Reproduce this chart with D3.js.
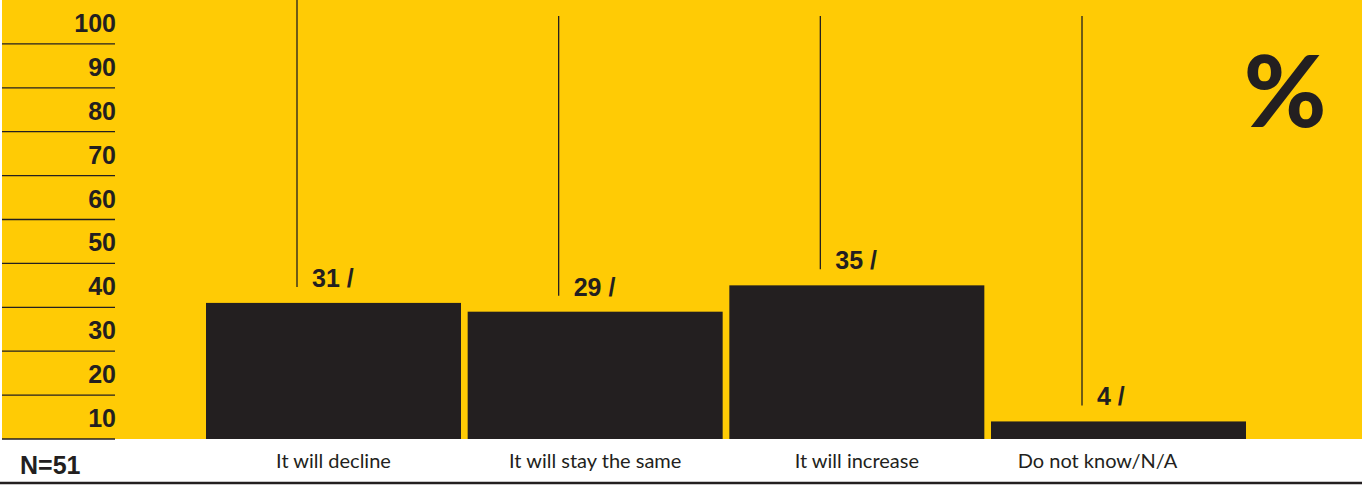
<!DOCTYPE html>
<html>
<head>
<meta charset="utf-8">
<script src="https://cdn.jsdelivr.net/npm/d3@7"></script>
<style>
  html, body { margin: 0; padding: 0; background: #fff; }
  svg { display: block; }
  .num { font-family: "Liberation Sans", Arial, sans-serif; font-weight: bold; fill: #231f20; }
  .cat { font-family: Lato, "Open Sans", sans-serif; fill: #231f20; }
</style>
</head>
<body>
<div id="chart"></div>
<script>
// Data
const categories = ['It will decline', 'It will stay the same', 'It will increase', 'Do not know/N/A']
const values = [31, 29, 35, 4]
const yTicks = [10, 20, 30, 40, 50, 60, 70, 80, 90, 100]
const sampleLabel = 'N=51'

const dataset = categories.map((c, i) => ({ name: c, value: values[i] }))

// Dimensions
const dimensions = {
  width: 1362,
  height: 485,
  plotTop: 0,
  plotBottom: 439,
}

const ink = '#231f20'
const yellow = '#ffcb05'

const svg = d3.select('#chart')
  .append('svg')
  .attr('width', dimensions.width)
  .attr('height', dimensions.height)

// yellow panel
svg.append('rect')
  .attr('x', 2)
  .attr('y', 0)
  .attr('width', dimensions.width - 2)
  .attr('height', dimensions.plotBottom)
  .attr('fill', yellow)

// Scales
const yScale = d3.scaleLinear()
  .domain([0, 100])
  .range([dimensions.plotBottom, dimensions.plotTop])

const xScale = d3.scaleBand()
  .domain(categories)
  .range([206, 1246])
  .paddingInner(0.0255)
  .paddingOuter(0)

// y "axis": a rule under each band, the label sits on top of it
const axisGroup = svg.append('g')

axisGroup.selectAll('line')
  .data(yTicks)
  .join('line')
  .attr('x1', 2)
  .attr('x2', 115)
  .attr('y1', d => yScale(d - 10))
  .attr('y2', d => yScale(d - 10))
  .attr('stroke', ink)
  .attr('stroke-width', 1.3)

axisGroup.selectAll('text')
  .data(yTicks)
  .join('text')
  .attr('class', 'num')
  .attr('x', 116)
  .attr('y', d => yScale(d - 10) - 12)
  .attr('text-anchor', 'end')
  .attr('font-size', 25)
  .text(d => d)

// Bars
svg.append('g')
  .selectAll('rect')
  .data(dataset)
  .join('rect')
  .attr('x', d => xScale(d.name))
  .attr('width', xScale.bandwidth())
  .attr('y', d => yScale(d.value))
  .attr('height', d => yScale(0) - yScale(d.value))
  .attr('fill', ink)

// leader lines + value labels
const leaderX = d => xScale(d.name) + 91

svg.append('g')
  .selectAll('line')
  .data(dataset)
  .join('line')
  .attr('x1', leaderX)
  .attr('x2', leaderX)
  .attr('y1', (d, i) => i === 0 ? 0 : 16)
  .attr('y2', d => yScale(d.value) - 16)
  .attr('stroke', ink)
  .attr('stroke-width', 1.3)

svg.append('g')
  .selectAll('text')
  .data(dataset)
  .join('text')
  .attr('class', 'num')
  .attr('x', d => leaderX(d) + 15)
  .attr('y', d => yScale(d.value) - 16)
  .attr('font-size', 25)
  .text(d => `${d.value} /`)

// category labels
svg.append('g')
  .selectAll('text')
  .data(dataset)
  .join('text')
  .attr('class', 'cat')
  .attr('x', d => xScale(d.name) + xScale.bandwidth() / 2)
  .attr('dx', (d, i) => i === categories.length - 1 ? -21 : 0)
  .attr('y', 468)
  .attr('text-anchor', 'middle')
  .attr('font-size', 20)
  .text(d => d.name)

// N=
svg.append('text')
  .attr('class', 'num')
  .attr('x', 20)
  .attr('y', 474)
  .attr('font-size', 25)
  .text(sampleLabel)

// bottom rule
svg.append('line')
  .attr('x1', 0)
  .attr('x2', dimensions.width)
  .attr('y1', 483)
  .attr('y2', 483)
  .attr('stroke', ink)
  .attr('stroke-width', 2.5)

// big percent sign
svg.append('text')
  .attr('x', 1285)
  .attr('y', 127)
  .attr('text-anchor', 'middle')
  .attr('font-family', 'Lato, sans-serif')
  .attr('font-weight', 900)
  .attr('font-size', 100)
  .attr('fill', ink)
  .text('%')
</script>
</body>
</html>
